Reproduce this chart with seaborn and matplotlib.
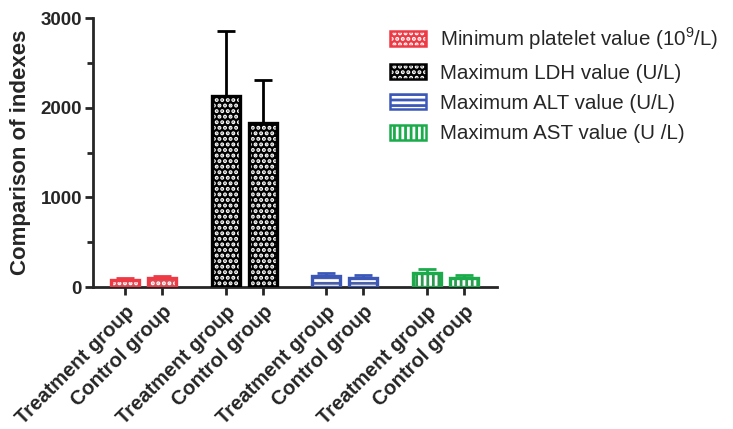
import numpy as np
import pandas as pd
import matplotlib
matplotlib.use("Agg")
import matplotlib.pyplot as plt
import seaborn as sns
from matplotlib.patches import Patch
from matplotlib.container import BarContainer

sns.set_style("ticks")
plt.rcParams['font.family'] = ['Liberation Sans', 'DejaVu Sans']
plt.rcParams['mathtext.fontset'] = 'custom'
plt.rcParams['mathtext.rm'] = 'Liberation Sans'
plt.rcParams['hatch.linewidth'] = 2.0

# ---- data ----
indexes = ["Minimum platelet value (10$^{9}$/L)", "Maximum LDH value (U/L)",
           "Maximum ALT value (U/L)", "Maximum AST value (U /L)"]
groups = ["Treatment group", "Control group"]
treatment_means = [75, 2130, 120, 160]
control_means = [95, 1830, 105, 105]
treatment_err = [30, 720, 35, 40]
control_err = [30, 480, 30, 25]
colors = ["#ee3a44", "#000000", "#3b58b8", "#1bab4b"]
hatches = ["...", "...", "---", "|||"]
y_ticks = [0, 1000, 2000, 3000]

rows = []
for i, ind in enumerate(indexes):
    rows.append(dict(index=ind, group=groups[0], pos=i + 0.0,
                     value=treatment_means[i], err=treatment_err[i]))
    rows.append(dict(index=ind, group=groups[1], pos=i + 0.37,
                     value=control_means[i], err=control_err[i]))
df = pd.DataFrame(rows)

fig = plt.figure(figsize=(7.33, 4.29), dpi=100)
ax = fig.add_axes([0.127, 0.331, 0.551, 0.627])

# filled hatched bars
sns.barplot(data=df, x="pos", y="value", hue="index", hue_order=indexes,
            palette=colors, native_scale=True, dodge=False, width=0.75,
            errorbar=None, legend=False, ax=ax)
bar_conts = [c for c in ax.containers if isinstance(c, BarContainer)]
for cont, h in zip(bar_conts, hatches):
    for bar in cont:
        bar.set_hatch(h)
        bar.set_edgecolor("white")
        bar.set_linewidth(0)
        bar.set_zorder(2)

# outlines
sns.barplot(data=df, x="pos", y="value", hue="index", hue_order=indexes,
            palette=colors, native_scale=True, dodge=False, width=0.75,
            errorbar=None, legend=False, fill=False, linewidth=2.4, ax=ax)
bar_conts2 = [c for c in ax.containers if isinstance(c, BarContainer)][len(bar_conts):]
for cont in bar_conts2:
    for bar in cont:
        bar.set_zorder(3)

# error bars (upper only)
for i, ind in enumerate(indexes):
    sub = df[df["index"] == ind]
    ax.errorbar(sub["pos"], sub["value"], yerr=[np.zeros(len(sub)), sub["err"]],
                fmt="none", ecolor=colors[i], elinewidth=2, capsize=6.5,
                capthick=2, zorder=1)

ax.set_xlim(-0.32, 3.7)
ax.set_ylim(0, 3000)
ax.set_yticks(y_ticks)
ax.set_yticks([500, 1500, 2500], minor=True)
ax.set_yticklabels([str(t) for t in y_ticks], fontsize=13.5, fontweight="bold")
ax.set_xticks(df["pos"])
ax.set_xticklabels(df["group"], rotation=45, ha="right", rotation_mode="anchor",
                   fontsize=14.5, fontweight="bold")
ax.set_xlabel("")
ax.set_ylabel("Comparison of indexes", fontsize=16, fontweight="bold", labelpad=7)

for s in ["top", "right"]:
    ax.spines[s].set_visible(False)
for s in ["left", "bottom"]:
    ax.spines[s].set_linewidth(2)
ax.tick_params(axis="both", which="major", width=2, length=6, direction="out", pad=2)
ax.tick_params(axis="x", which="major", pad=5)
ax.tick_params(axis="y", which="minor", width=2, length=4, direction="out")

handles = []
for c, h in zip(colors, hatches):
    fillp = Patch(facecolor=c, edgecolor="white", hatch=h, linewidth=0)
    edgep = Patch(facecolor="none", edgecolor=c, linewidth=1.8)
    handles.append((fillp, edgep))
leg = fig.legend(handles, indexes, loc="upper left", bbox_to_anchor=(0.532, 0.94),
                 frameon=False, fontsize=14.8, handlelength=1.75, handleheight=0.75,
                 labelspacing=0.55, handletextpad=0.7, borderpad=0, borderaxespad=0)

fig.savefig("out.png", dpi=100)
